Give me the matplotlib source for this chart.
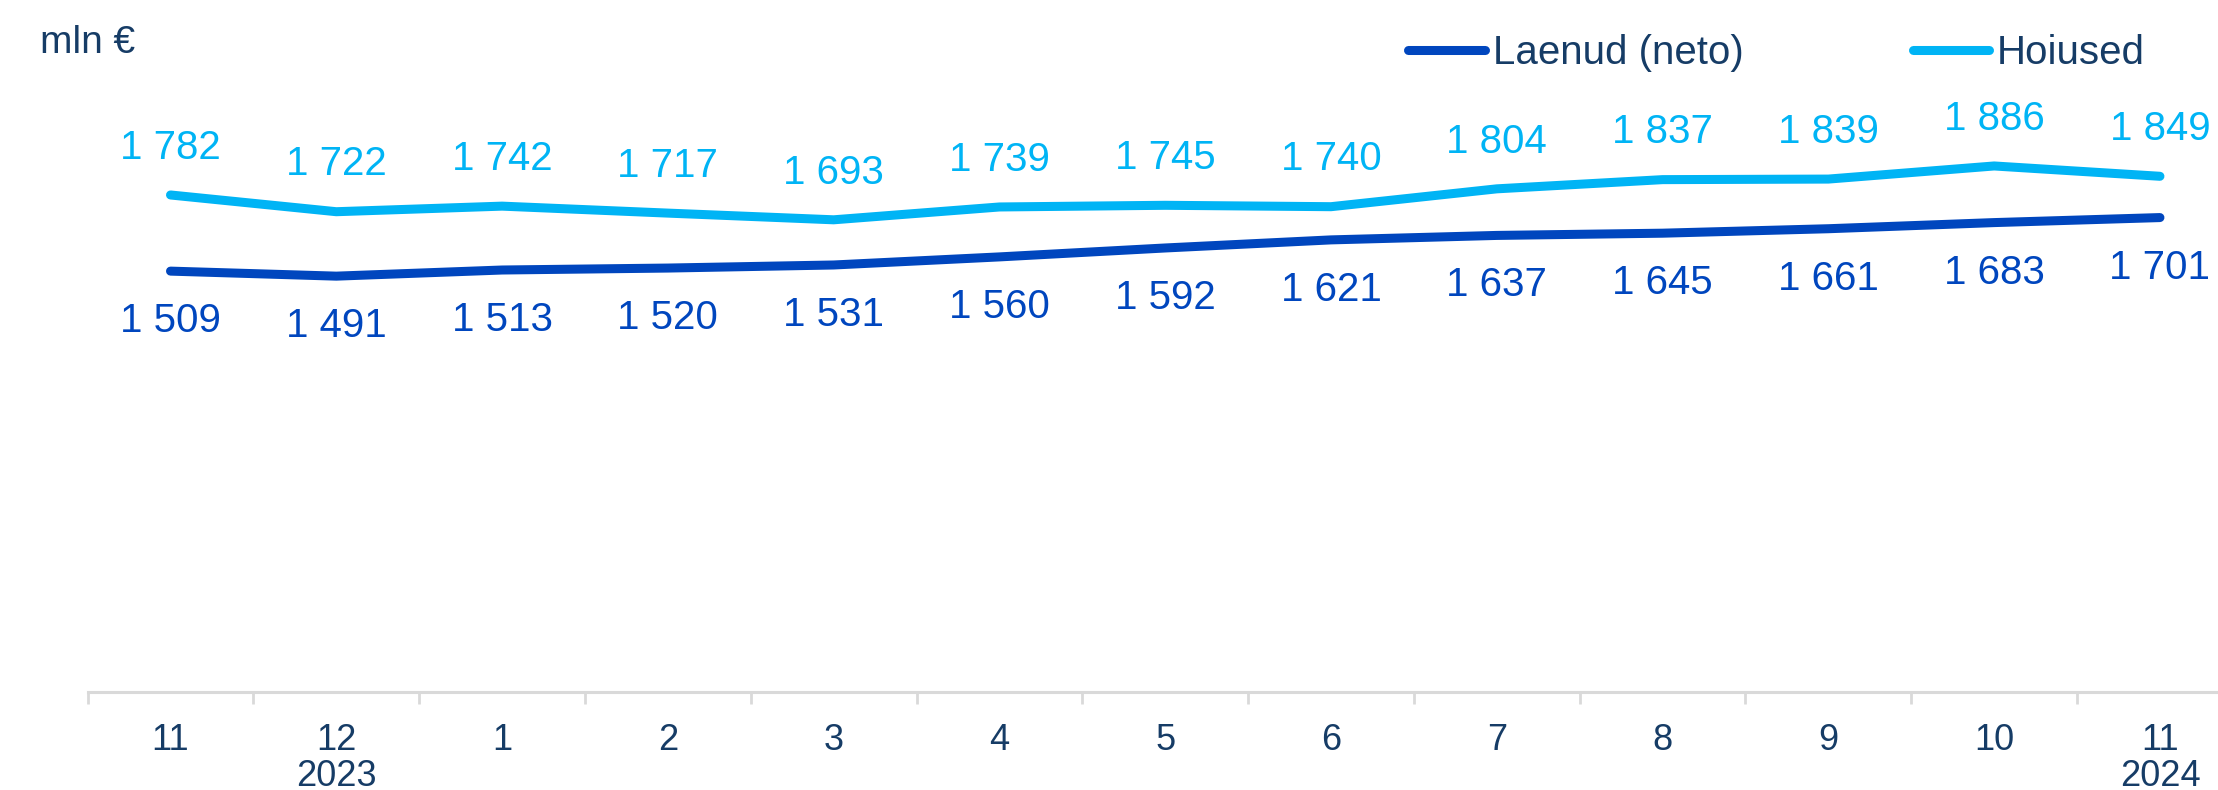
import matplotlib.pyplot as plt

plt.rcParams['font.family'] = ['Liberation Sans', 'DejaVu Sans']

# DATA
months = ['11', '12\n2023', '1', '2', '3', '4', '5', '6', '7', '8', '9', '10', '11\n2024']
laenud = [1509, 1491, 1513, 1520, 1531, 1560, 1592, 1621, 1637, 1645, 1661, 1683, 1701]
hoiused = [1782, 1722, 1742, 1717, 1693, 1739, 1745, 1740, 1804, 1837, 1839, 1886, 1849]

DARK = '#0046BE'
LIGHT = '#00B4F5'
NAVY = '#163C66'

def fmt(v):
    return f'{v:,}'.replace(',', ' ')

fig = plt.figure(figsize=(22.18, 7.9), dpi=100)
ax = fig.add_axes([0.0395, 0.1240, 0.9717, 0.8474])

x = list(range(len(months)))
ax.plot(x, laenud, color=DARK, lw=6.5, solid_capstyle='round', label='Laenud (neto)')
ax.plot(x, hoiused, color=LIGHT, lw=6.5, solid_capstyle='round', label='Hoiused')

for xi, v in zip(x, hoiused):
    ax.annotate(fmt(v), (xi, v), xytext=(0, 34), textcoords='offset points',
                ha='center', va='center', fontsize=29, color=LIGHT)
for xi, v in zip(x, laenud):
    ax.annotate(fmt(v), (xi, v), xytext=(0, -36), textcoords='offset points',
                ha='center', va='center', fontsize=29, color=DARK)

ax.set_xlim(-0.5, len(months) - 0.5)
ax.set_ylim(0, 2400)
ax.set_yticks([])
for s in ['top', 'right', 'left']:
    ax.spines[s].set_visible(False)
ax.spines['bottom'].set_color('#D9D9D9')
ax.spines['bottom'].set_linewidth(2.2)

ax.set_xticks(x)
ax.set_xticklabels(months, fontsize=26, color=NAVY, linespacing=1.05)
ax.tick_params(axis='x', which='major', length=0, pad=22)
ax.set_xticks([i - 0.5 for i in range(len(months) + 1)], minor=True)
ax.tick_params(axis='x', which='minor', length=8.6, width=2, color='#D9D9D9')

fig.text(40 / 2218, 1 - 43 / 790, 'mln €', fontsize=28, color=NAVY, va='center', ha='left')

leg = fig.legend(loc='center left', bbox_to_anchor=(1408 / 2218, 1 - 53 / 790), ncol=2,
                 frameon=False, fontsize=29, handlelength=1.9, handletextpad=0.2,
                 columnspacing=4.2, borderpad=0, borderaxespad=0)
for t in leg.get_texts():
    t.set_color(NAVY)

fig.savefig('out.png', dpi=100)
